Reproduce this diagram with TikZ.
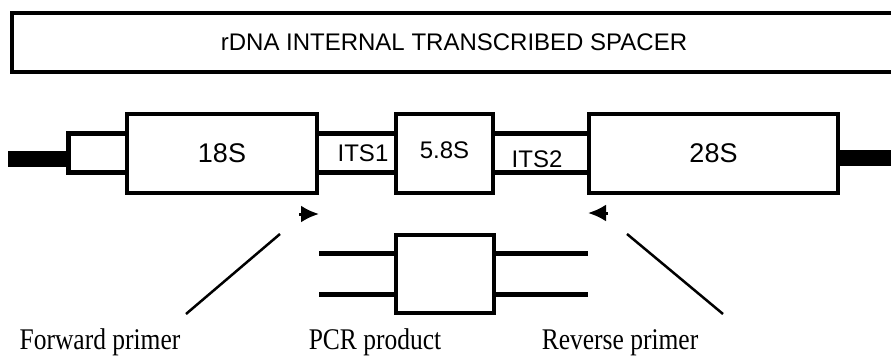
\documentclass[tikz,border=0pt]{standalone}
\usepackage{fontspec}
\setmainfont{Liberation Serif}
\setsansfont{Liberation Sans}
\usetikzlibrary{arrows.meta,positioning}

\begin{document}
\begin{tikzpicture}[
    x=1pt, y=1pt,
    node distance=121pt,
    font=\sffamily,
    header/.style={
		rectangle,
		draw=black,
		line width=4.5pt,
		text centered,
		minimum height=59pt,
		minimum width=884pt,
		font=\sffamily\fontsize{24}{28}\selectfont
	},
	gene/.style={
		rectangle,
		draw=black,
		line width=4pt,
		outer sep=0pt,
		text centered,
		minimum height=79pt,
		fill=white,
		font=\sffamily\fontsize{27}{30}\selectfont
	},
	spacer/.style={
		font=\sffamily\fontsize{24}{28}\selectfont
	},
	strand/.style={
		line width=5pt
	},
	flank/.style={
		line width=16pt
	},
	pointer/.style={
		line width=2.5pt
	},
	primer/.style={
		line width=3pt,
		-{Latex[length=18pt,width=17pt]}
	},
	tag/.style={
		anchor=base,
		xscale=0.85,
		transform shape,
		font=\rmfamily\fontsize{30}{34}\selectfont
	}
  ]

 \useasboundingbox (0,0) rectangle (891,-356);

% // The title
 \node [header] (title) at (454,-42.5) {rDNA INTERNAL TRANSCRIBED SPACER};

% // The rDNA unit
 \node [gene, minimum width=190pt] (s18) at (222,-153) {18S};
 \node [gene, right of=s18, xshift=101.5pt, minimum width=97pt] (s58)
 {\raisebox{5pt}{\fontsize{24}{28}\selectfont 5.8S}};
 \node [gene, right of=s58, xshift=148pt, minimum width=249pt] (s28) {28S};

 \node [spacer] (its1) at (363,-153) {ITS1};
 \node [spacer] (its2) at (537,-159) {ITS2};

 \draw [strand] ([yshift=19.5pt]s18.east) -- ([yshift=19.5pt]s58.west);
 \draw [strand] ([yshift=-19.5pt]s18.east) -- ([yshift=-19.5pt]s58.west);
 \draw [strand] ([yshift=19.5pt]s58.east) -- ([yshift=19.5pt]s28.west);
 \draw [strand] ([yshift=-19.5pt]s58.east) -- ([yshift=-19.5pt]s28.west);

% flanking ends
 \coordinate (lend) at (68,-153);
 \draw [strand] ([yshift=19.5pt]s18.west) -| (lend) |- ([yshift=-19.5pt]s18.west);
 \coordinate (lfree) at (8,-158.5);
 \draw [flank] (lfree) -- (lfree -| lend);
 \coordinate (rfree) at (895,-157.5);
 \draw [flank] (rfree -| s28.east) -- (rfree);

% // The primers
 \coordinate (fwtail) at (299,-214);
 \coordinate (fwtip) at (319,-214);
 \draw [primer] (fwtail) -- (fwtip);
 \coordinate (rvtail) at (608,-213);
 \coordinate (rvtip) at (588,-213);
 \draw [primer] (rvtail) -- (rvtip);

 \coordinate (fwtop) at (280,-234);
 \coordinate (fwfoot) at (186,-314);
 \draw [pointer] (fwtop) -- (fwfoot);
 \coordinate (rvtop) at (627,-234);
 \coordinate (rvfoot) at (723,-314);
 \draw [pointer] (rvtop) -- (rvfoot);

% // The PCR product
 \node [gene, below of=s58, minimum width=98pt, minimum height=78pt] (pcr) {};
 \coordinate (pleft) at (319,-274);
 \coordinate (pright) at (588,-274);
 \draw [strand] ([yshift=20.5pt]pleft) -- ([yshift=20.5pt]pcr.west);
 \draw [strand] ([yshift=-20.5pt]pleft) -- ([yshift=-20.5pt]pcr.west);
 \draw [strand] ([yshift=20.5pt]pcr.east) -- ([yshift=20.5pt]pright);
 \draw [strand] ([yshift=-20.5pt]pcr.east) -- ([yshift=-20.5pt]pright);

 \node [tag] (fwd) at (100,-349) {Forward primer};
 \node [tag] (prod) at (375,-349) {PCR product};
 \node [tag] (rev) at (620,-349) {Reverse primer};

\end{tikzpicture}
\end{document}
